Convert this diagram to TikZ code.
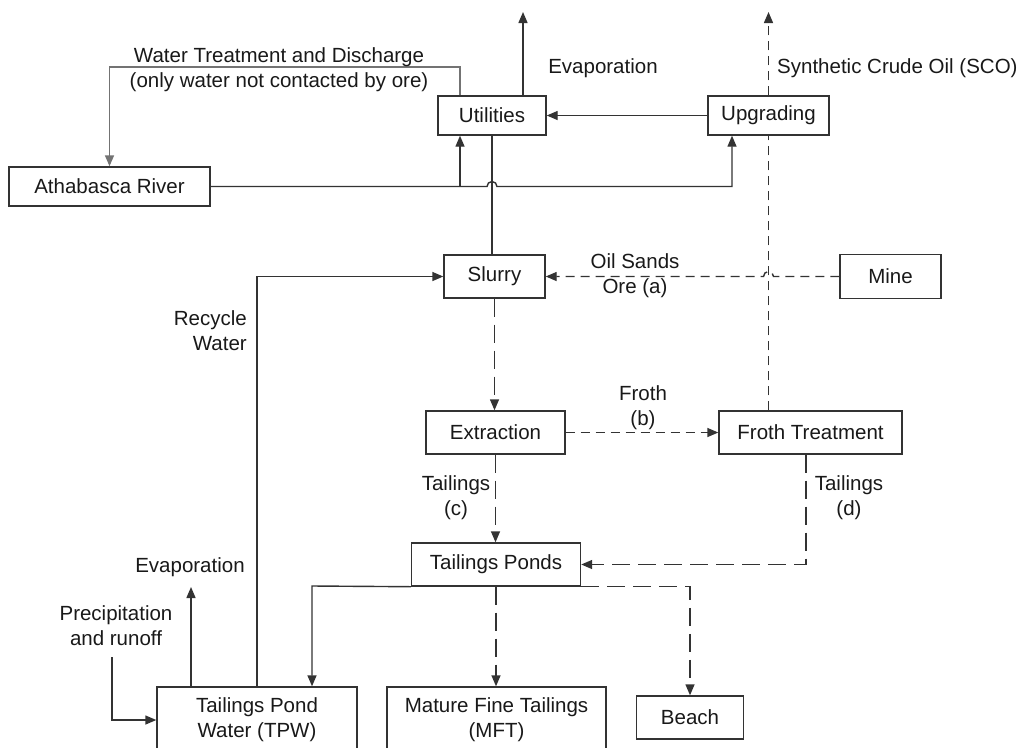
\documentclass[tikz,border=0pt]{standalone}
\usepackage{fontspec}
\setmainfont{Liberation Sans}
\usetikzlibrary{arrows.meta,calc}
\begin{document}
\begin{tikzpicture}[x=1pt,y=-1pt,
  font=\fontsize{20.5}{25}\selectfont,
  box/.style={draw=black!80,line width=1.4pt,inner sep=0pt,align=center,text=black!90},
  line/.style={draw=black!80,line width=1.4pt},
  flow/.style={line,-{Triangle[length=11pt,width=9pt]}},
  sdash/.style={dash pattern=on 9pt off 6pt},
  ldash/.style={dash pattern=on 18pt off 8pt},
  lab/.style={align=center,inner sep=0pt,text=black!90}]
\useasboundingbox (0,0) rectangle (1027,747);
\fill[white] (0,0) rectangle (1027,747);
% nodes
\node[box,minimum width=108pt,minimum height=39pt] (util) at (492,115.5) {Utilities};
\node[box,minimum width=121pt,minimum height=39pt] (upg) at (768.5,115.5) {Upgrading};
\node[box,minimum width=201pt,minimum height=39pt] (ath) at (109.5,186.5) {Athabasca River};
\node[box,minimum width=101pt,minimum height=43pt] (slurry) at (494.5,276.5) {Slurry};
\node[box,minimum width=101pt,minimum height=44pt] (mine) at (890.5,276.5) {Mine};
\node[box,minimum width=139pt,minimum height=43pt] (ext) at (495.5,432.5) {Extraction};
\node[box,minimum width=183pt,minimum height=43pt] (ft) at (810.5,432.5) {Froth Treatment};
\node[box,minimum width=169pt,minimum height=43pt] (tp) at (496,564.5) {Tailings Ponds};
\node[box,minimum width=200pt,minimum height=66pt] (tpw) at (257,720) {Tailings Pond\\Water (TPW)};
\node[box,minimum width=219pt,minimum height=66pt] (mft) at (496.5,720) {Mature Fine Tailings\\(MFT)};
\node[box,minimum width=107pt,minimum height=43pt] (beach) at (690,717.5) {Beach};
% free-end coordinates
\coordinate (wt) at (460,67);
\coordinate (j2) at (732,186.5);
\coordinate (ev1) at (523,12);
\coordinate (sco) at (768.5,12);
\coordinate (tpl) at (312,586);
\coordinate (ev2) at (191,587);
\coordinate (pr) at (112,657);
% connectors
\draw[flow] (upg.west) -- (util.east);
\draw[flow] (util.north -| ev1) -- (ev1);
\draw[flow,sdash] (upg.north) -- (sco);
\draw[line,sdash] (ft.north -| upg.south) -- (upg.south);
\draw[flow,draw=black!55] (util.north -| wt) -- (wt) -| (ath.north);
\draw[flow] (ath.east -| wt) -- (util.south -| wt);
\draw[flow] (ath.east) -- ($(util.south |- ath.east)+(-5,0)$) arc[start angle=180,end angle=0,radius=5pt] -- (ath.east -| j2) -- (upg.south -| j2);
\draw[line] (util.south) -- (util.south |- slurry.north);
\draw[flow,sdash] (mine.west) -- ($(upg.south |- mine.west)+(5,0)$) arc[start angle=0,end angle=180,radius=5pt] -- (slurry.east);
\draw[flow] (tpw.north) |- (slurry.west);
\draw[flow,ldash] (slurry.south) -- (slurry.south |- ext.north);
\draw[flow,sdash] (ext.east) -- (ft.west);
\draw[flow,ldash] (ext.south) -- (ext.south |- tp.north);
\draw[flow,ldash] ($(ft.south)+(-4.5,0)$) |- (tp.east);
\draw[flow] (tp.south west) -- (tpl) -- (tpl |- tpw.north);
\draw[flow,ldash] (tp.south) -- (tp.south |- mft.north);
\draw[flow,ldash] (tp.south east) -| (beach.north);
\draw[flow] (tpw.north -| ev2) -- (ev2);
\draw[flow] (pr) |- (tpw.west);
% labels
\node[lab] (lwt) at (279,69.5) {Water Treatment and Discharge\\(only water not contacted by ore)};
\node[lab] (lev1) at (603,68) {Evaporation};
\node[lab,anchor=west] (lsco) at (777,68) {Synthetic Crude Oil (SCO)};
\node[lab] (lore) at (635,276) {Oil Sands\\Ore (a)};
\node[lab,align=right,anchor=east] (lrec) at (247,331) {Recycle\\Water};
\node[lab] (lfroth) at (643,408) {Froth\\(b)};
\node[lab] (ltc) at (456,498) {Tailings\\(c)};
\node[lab] (ltd) at (849,498) {Tailings\\(d)};
\node[lab] (lev2) at (190,567) {Evaporation};
\node[lab] (lpr) at (116,626) {Precipitation\\and runoff};
\end{tikzpicture}
\end{document}
